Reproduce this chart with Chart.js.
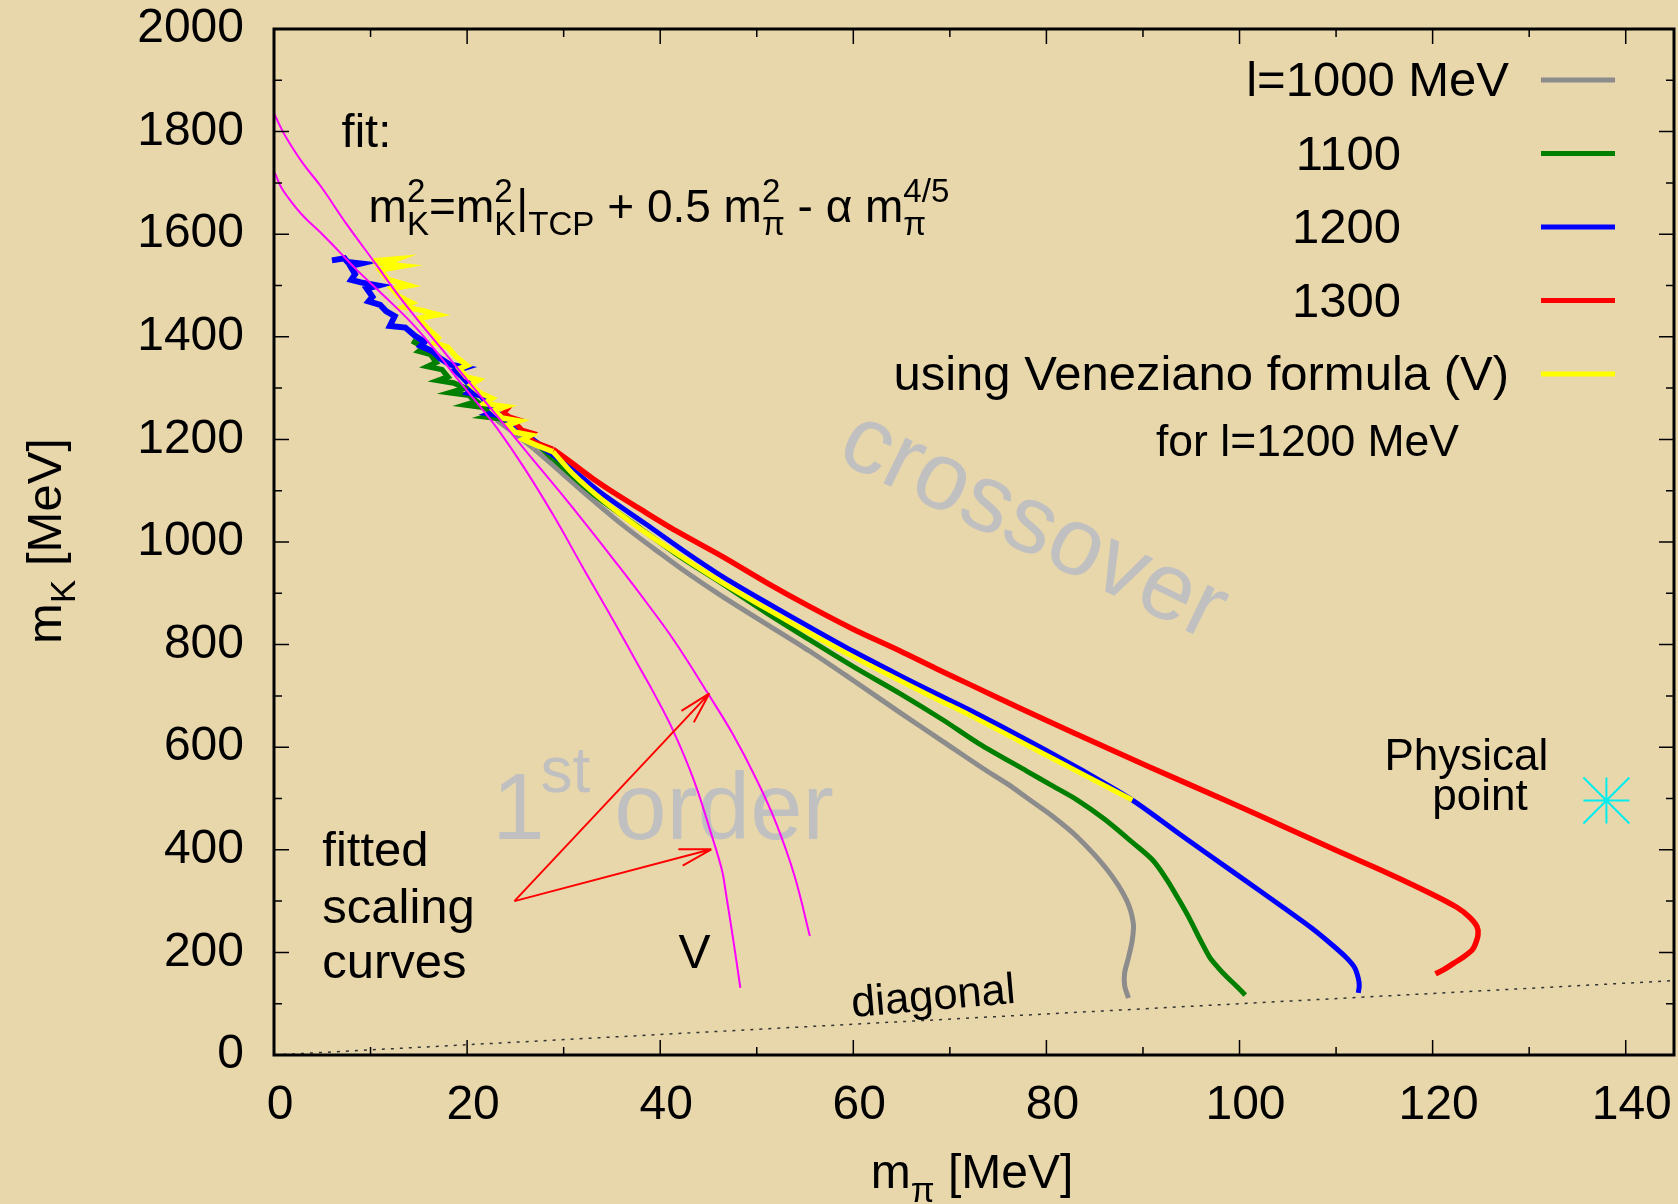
<!DOCTYPE html>
<html>
<head>
<meta charset="utf-8">
<script src="https://cdn.jsdelivr.net/npm/chart.js@4.4.0/dist/chart.umd.min.js"></script>
<style>
  html, body { margin: 0; padding: 0; background: #e9d7ac; }
  canvas { display: block; }
</style>
</head>
<body>
<canvas id="chart" width="1678" height="1204"></canvas>
<script>
const FONT = '"Liberation Sans", Arial, Helvetica, sans-serif';

// axis ranges and ticks
const xRange = [0, 145];
const yRange = [0, 2000];
const xTicks = [0, 20, 40, 60, 80, 100, 120, 140];
const xMinorTicks = [10, 30, 50, 70, 90, 110, 130];
const yTicks = [0, 200, 400, 600, 800, 1000, 1200, 1400, 1600, 1800, 2000];
const yMinorTicks = [100, 300, 500, 700, 900, 1100, 1300, 1500, 1700, 1900];

// critical lines [m_pi, m_K]; the noisy heads near the TCP are kept apart
const l1000Noise = [
  [20.3, 1282], [21.6, 1262], [22.4, 1256], [23.2, 1236], [24.9, 1212], [26.9, 1182]
];
const l1000 = [
  [26.9, 1182], [29.0, 1148], [32.5, 1090], [36.2, 1032], [40.0, 978], [43.0, 937],
  [46.5, 893], [51.0, 840], [55.5, 787], [60.0, 730], [64.8, 668], [69.3, 611],
  [73.4, 559], [76.0, 528], [78.3, 497], [80.6, 466], [83.2, 425], [86.3, 361],
  [88.3, 302], [89.0, 257], [88.9, 225], [88.5, 190], [88.1, 160], [88.1, 135], [88.5, 111]
];
const l1100Noise = [
  [14.3, 1392], [15.5, 1380], [15.0, 1372], [16.2, 1366], [16.8, 1350], [15.9, 1342],
  [17.4, 1336], [18.0, 1322], [17.0, 1315], [18.6, 1310], [19.8, 1300], [18.2, 1291],
  [20.2, 1286], [21.0, 1274], [19.8, 1267], [21.8, 1262], [22.8, 1250], [21.8, 1244],
  [23.5, 1240], [24.5, 1228], [25.8, 1212], [27.2, 1192], [28.9, 1162]
];
const l1100 = [
  [28.9, 1162], [33.0, 1094], [38.0, 1026], [42.0, 972], [46.5, 918], [51.0, 862],
  [55.5, 809], [60.0, 757], [64.8, 705], [69.3, 653], [73.0, 607], [78.0, 553],
  [80.5, 526], [83.2, 497], [86.0, 460], [89.0, 413], [91.0, 380], [92.5, 341],
  [93.8, 300], [94.9, 263], [96.0, 222], [96.9, 191], [97.8, 170], [98.7, 152],
  [99.7, 134], [100.6, 117]
];
const l1200Noise = [
  [6.0, 1549], [7.3, 1553], [7.6, 1546], [9.0, 1543], [7.9, 1538], [8.4, 1522],
  [8.0, 1511], [9.0, 1506], [10.8, 1500], [9.6, 1494], [10.2, 1478], [9.8, 1469],
  [11.0, 1462], [11.6, 1450], [12.5, 1440], [12.0, 1421], [13.6, 1418], [14.6, 1402],
  [15.6, 1390], [15.2, 1382], [16.4, 1372], [17.2, 1358], [18.2, 1346], [19.8, 1340],
  [18.8, 1334], [19.6, 1320], [20.6, 1300], [20.1, 1291], [21.4, 1286], [22.2, 1268],
  [23.0, 1254], [22.4, 1250], [23.6, 1246], [24.6, 1232], [26.0, 1210], [28.6, 1174]
];
const l1200 = [
  [28.6, 1174], [31.0, 1140], [34.0, 1094], [38.5, 1035], [42.5, 982], [46.5, 932],
  [51.0, 882], [55.5, 834], [60.0, 787], [64.8, 740], [68.5, 705], [72.1, 672],
  [78.6, 608], [83.5, 557], [88.9, 497], [94.0, 428], [99.4, 356], [104.5, 288],
  [107.5, 247], [109.7, 213], [111.0, 191], [111.9, 171], [112.3, 150], [112.4, 135],
  [112.3, 121]
];
const l1300Noise = [
  [23.2, 1264], [24.2, 1260], [23.8, 1252], [24.4, 1244], [25.4, 1238], [25.0, 1232],
  [25.7, 1218], [26.8, 1212], [26.3, 1205], [27.0, 1195], [28.9, 1181]
];
const l1300 = [
  [28.9, 1181], [31.0, 1152], [33.0, 1124], [35.3, 1095], [37.6, 1068], [41.7, 1021],
  [46.5, 971], [51.0, 921], [55.5, 874], [60.0, 830], [64.8, 788], [68.5, 754],
  [72.1, 722], [77.5, 674], [82.8, 628], [90.5, 563], [98.7, 495], [104.5, 446],
  [110.0, 399], [115.3, 355], [119.9, 314], [122.5, 288], [123.8, 269], [124.6, 250],
  [124.7, 234], [124.4, 215], [124.1, 205], [123.2, 191], [122.2, 179], [121.2, 167],
  [120.3, 158]
];
// Veneziano formula, l = 1200 MeV
const venezianoNoise = [
  [10.2, 1548], [12.8, 1552], [11.4, 1542], [13.4, 1538], [11.0, 1530], [11.8, 1512],
  [14.0, 1500], [12.2, 1494], [13.0, 1478], [14.3, 1466], [13.4, 1458], [15.2, 1452],
  [17.0, 1443], [15.0, 1436], [15.8, 1418], [17.0, 1398], [16.6, 1388], [18.0, 1380],
  [18.8, 1362], [20.0, 1344], [19.2, 1338], [19.9, 1322], [21.2, 1316], [20.4, 1306],
  [21.4, 1290], [22.6, 1280], [21.8, 1270], [24.0, 1264], [22.8, 1256], [23.6, 1242],
  [25.4, 1236], [24.2, 1228], [25.0, 1214], [26.6, 1208], [25.8, 1200], [27.0, 1190],
  [28.9, 1176]
];
const veneziano = [
  [28.9, 1176], [31.0, 1132], [34.0, 1082], [37.6, 1030], [42.0, 974], [46.5, 920],
  [51.0, 870], [55.5, 822], [60.0, 776], [64.8, 730], [68.5, 695], [72.1, 662],
  [78.6, 598], [83.5, 550], [88.9, 497]
];
// fitted scaling curves
const fitUpper = [
  [0, 1836], [0.7, 1808], [1.4, 1784], [3.0, 1738], [4.9, 1692], [7.5, 1620],
  [10.5, 1543], [13.0, 1478], [16.0, 1407], [18.0, 1362], [20.0, 1316], [23.7, 1232],
  [26.5, 1168], [29.5, 1100], [32.5, 1030], [35.5, 958], [38.5, 884], [41.4, 809],
  [44.9, 706], [47.5, 626], [50.0, 536], [52.0, 452], [53.9, 350], [55.5, 232]
];
const fitLower = [
  [0.1, 1719], [0.7, 1693], [1.4, 1673], [3.0, 1636], [4.9, 1602], [6.8, 1565],
  [8.6, 1530], [11.5, 1478], [14.2, 1428], [16.6, 1376], [19.0, 1318], [21.0, 1272],
  [23.1, 1222], [26.0, 1142], [29.0, 1050], [32.0, 950], [35.0, 852], [37.6, 764],
  [39.5, 700], [41.4, 630], [43.5, 535], [45.3, 430], [46.4, 360], [46.8, 316],
  [47.6, 220], [48.3, 131]
];
const diagonal = [[0, 0], [145, 145]];
const physicalPoint = [[138, 496]];
const arrowTail = [24.9, 300];
const arrowTips = [[45.1, 705], [45.3, 401]];

const legendLabels = ['l=1000 MeV', '1100', '1200', '1300', 'using Veneziano formula (V)'];
const legendNote = 'for l=1200 MeV';
const curveColors = ['#8c8c8c', '#007f00', '#0000ff', '#ff0000', '#ffff00'];

const toPoints = (pairs) => pairs.map(([x, y]) => ({ x, y }));

const curve = (label, pairs, color, width, order, tension) => ({
  label,
  data: toPoints(pairs),
  showLine: true,
  borderColor: color,
  backgroundColor: color,
  borderWidth: width,
  pointRadius: 0,
  tension,
  order,
});

const datasets = [
  curve(legendLabels[0], l1000Noise, curveColors[0], 5, 5, 0),
  curve(legendLabels[0], l1000, curveColors[0], 5, 5, 0.3),
  curve(legendLabels[1], l1100Noise, curveColors[1], 5.5, 4, 0),
  curve(legendLabels[1], l1100, curveColors[1], 5, 4, 0.3),
  curve(legendLabels[2], l1200Noise, curveColors[2], 6, 3, 0),
  curve(legendLabels[2], l1200, curveColors[2], 5, 3, 0.3),
  curve(legendLabels[3], l1300Noise, curveColors[3], 5, 2, 0),
  curve(legendLabels[3], l1300, curveColors[3], 5.5, 2, 0.3),
  curve(legendLabels[4], venezianoNoise, curveColors[4], 5.5, 1, 0),
  curve(legendLabels[4], veneziano, curveColors[4], 5, 1, 0.3),
  curve('fit', fitUpper, '#ff00ff', 2, 0, 0.4),
  curve('fit V', fitLower, '#ff00ff', 2, 0, 0.4),
  {
    label: 'diagonal',
    data: toPoints(diagonal),
    showLine: true,
    borderColor: '#333333',
    borderWidth: 1.5,
    borderDash: [3, 6],
    pointRadius: 0,
    order: 6,
  },
  {
    label: 'physical +',
    data: toPoints(physicalPoint),
    pointStyle: 'cross',
    pointRadius: 23,
    pointBorderColor: '#00eeee',
    pointBorderWidth: 2,
    order: 0,
  },
  {
    label: 'physical x',
    data: toPoints(physicalPoint),
    pointStyle: 'crossRot',
    pointRadius: 32.5,
    pointBorderColor: '#00eeee',
    pointBorderWidth: 2,
    order: 0,
  },
];

// text with stacked super/subscripts: parts are strings or {sup, sub}
const richText = (ctx, parts, x, y, size, align, color) => {
  const small = size * 0.72;
  const widthOf = (p) => {
    if (typeof p === 'string') {
      ctx.font = `${size}px ${FONT}`;
      return ctx.measureText(p).width;
    }
    ctx.font = `${small}px ${FONT}`;
    return Math.max(p.sup ? ctx.measureText(p.sup).width : 0, p.sub ? ctx.measureText(p.sub).width : 0);
  };
  const total = parts.reduce((sum, p) => sum + widthOf(p), 0);
  let cx = align === 'center' ? x - total / 2 : align === 'right' ? x - total : x;
  ctx.textAlign = 'left';
  ctx.textBaseline = 'alphabetic';
  ctx.fillStyle = color || '#000';
  parts.forEach((p) => {
    const w = widthOf(p);
    if (typeof p === 'string') {
      ctx.font = `${size}px ${FONT}`;
      ctx.fillText(p, cx, y);
    } else {
      ctx.font = `${small}px ${FONT}`;
      if (p.sup) ctx.fillText(p.sup, cx, y - size * 0.43);
      if (p.sub) ctx.fillText(p.sub, cx, y + size * 0.29);
    }
    cx += w;
  });
};

const backgroundTextPlugin = {
  id: 'backgroundText',
  beforeDatasetsDraw(chart) {
    const { ctx, scales: { x, y } } = chart;
    ctx.save();
    ctx.fillStyle = '#c0c0c0';
    // crossover
    ctx.save();
    ctx.translate(x.getPixelForValue(78.6), y.getPixelForValue(1030));
    ctx.rotate(26 * Math.PI / 180);
    ctx.font = `96px ${FONT}`;
    ctx.textAlign = 'center';
    ctx.textBaseline = 'middle';
    ctx.fillText('crossover', 0, 0);
    ctx.restore();
    // 1st order
    let px = x.getPixelForValue(22.6);
    const py = y.getPixelForValue(421);
    ctx.textAlign = 'left';
    ctx.textBaseline = 'alphabetic';
    ctx.font = `94px ${FONT}`;
    ctx.fillText('1', px, py);
    px += ctx.measureText('1').width - 4;
    ctx.font = `64px ${FONT}`;
    ctx.fillText('st', px, py - 47);
    px += ctx.measureText('st').width + 24;
    ctx.font = `94px ${FONT}`;
    ctx.fillText('order', px, py);
    ctx.restore();
  },
};

const decorPlugin = {
  id: 'decor',
  afterDatasetsDraw(chart) {
    const { ctx, chartArea: a, scales: { x, y } } = chart;
    ctx.save();

    // arrows
    ctx.strokeStyle = '#ff0000';
    ctx.lineWidth = 2;
    const tx = x.getPixelForValue(arrowTail[0]);
    const ty = y.getPixelForValue(arrowTail[1]);
    arrowTips.forEach(([vx, vy]) => {
      const hx = x.getPixelForValue(vx);
      const hy = y.getPixelForValue(vy);
      const ang = Math.atan2(ty - hy, tx - hx);
      ctx.beginPath();
      ctx.moveTo(tx, ty);
      ctx.lineTo(hx, hy);
      [-0.26, 0.26].forEach((d) => {
        ctx.moveTo(hx, hy);
        ctx.lineTo(hx + 33 * Math.cos(ang + d), hy + 33 * Math.sin(ang + d));
      });
      ctx.stroke();
    });

    // frame and inward ticks
    ctx.strokeStyle = '#000';
    ctx.lineWidth = 1.5;
    ctx.beginPath();
    const xt = (vals, len) => vals.forEach((v) => {
      const p = x.getPixelForValue(v);
      ctx.moveTo(p, a.bottom); ctx.lineTo(p, a.bottom - len);
      ctx.moveTo(p, a.top); ctx.lineTo(p, a.top + len);
    });
    const yt = (vals, len) => vals.forEach((v) => {
      const p = y.getPixelForValue(v);
      ctx.moveTo(a.left, p); ctx.lineTo(a.left + len, p);
      ctx.moveTo(a.right, p); ctx.lineTo(a.right - len, p);
    });
    xt(xTicks, 15); xt(xMinorTicks, 8);
    yt(yTicks, 15); yt(yMinorTicks, 8);
    ctx.stroke();
    ctx.lineWidth = 3;
    ctx.strokeRect(a.left, a.top, a.right - a.left, a.bottom - a.top);

    // annotations
    richText(ctx, ['fit:'], x.getPixelForValue(7.0), y.getPixelForValue(1770), 47, 'left');
    richText(ctx, [
      'm', { sup: '2', sub: 'K' }, '=m', { sup: '2', sub: 'K' }, '|', { sub: 'TCP' },
      ' + 0.5 m', { sup: '2', sub: 'π' }, ' - α m', { sup: '4/5', sub: 'π' },
    ], x.getPixelForValue(9.8), y.getPixelForValue(1624), 46, 'left');
    richText(ctx, ['fitted'], x.getPixelForValue(5.0), y.getPixelForValue(368), 49, 'left');
    richText(ctx, ['scaling'], x.getPixelForValue(5.0), y.getPixelForValue(257), 49, 'left');
    richText(ctx, ['curves'], x.getPixelForValue(5.0), y.getPixelForValue(150), 49, 'left');
    richText(ctx, ['V'], x.getPixelForValue(41.9), y.getPixelForValue(170), 48, 'left');
    richText(ctx, ['Physical'], x.getPixelForValue(123.5), y.getPixelForValue(556), 44, 'center');
    richText(ctx, ['point'], x.getPixelForValue(124.9), y.getPixelForValue(478), 44, 'center');
    ctx.save();
    ctx.translate(x.getPixelForValue(68.4), y.getPixelForValue(88));
    ctx.rotate(-5 * Math.PI / 180);
    richText(ctx, ['diagonal'], 0, 0, 43.5, 'center');
    ctx.restore();

    // legend (key): the bare numbers sit left of the " MeV" column
    legendLabels.forEach((label, i) => {
      const base = 96 + i * 73.5;
      const right = /^\d+$/.test(label) ? 1401 : 1509;
      richText(ctx, [label], right, base, 49, 'right');
      ctx.strokeStyle = curveColors[i];
      ctx.lineWidth = 5;
      ctx.beginPath();
      ctx.moveTo(1541, base - 16);
      ctx.lineTo(1615, base - 16);
      ctx.stroke();
    });
    richText(ctx, [legendNote], 1459, 456, 44.5, 'right');

    // axis titles
    richText(ctx, ['m', { sub: 'π' }, ' [MeV]'], 972, 1188, 48, 'center');
    ctx.save();
    ctx.translate(61, 541);
    ctx.rotate(-Math.PI / 2);
    richText(ctx, ['m', { sub: 'K' }, ' [MeV]'], 0, 0, 49, 'center');
    ctx.restore();

    ctx.restore();
  },
};

new Chart(document.getElementById('chart').getContext('2d'), {
  type: 'scatter',
  data: { datasets },
  plugins: [backgroundTextPlugin, decorPlugin],
  options: {
    responsive: false,
    animation: false,
    layout: { autoPadding: false, padding: { top: 29, right: 4, left: 0, bottom: 0 } },
    plugins: { legend: { display: false }, tooltip: { enabled: false } },
    scales: {
      x: {
        type: 'linear',
        min: xRange[0],
        max: xRange[1],
        afterBuildTicks: (scale) => { scale.ticks = xTicks.map((value) => ({ value })); },
        afterFit: (scale) => {
          scale.height = 149;
          scale.paddingLeft = 0;
          scale.paddingRight = 0;
        },
        grid: { display: false, drawTicks: false },
        border: { display: false },
        ticks: {
          color: '#000',
          font: { family: FONT, size: 48 },
          padding: 22,
          labelOffset: 6,
          maxRotation: 0,
          autoSkip: false,
          callback: (value) => String(value),
        },
      },
      y: {
        type: 'linear',
        min: yRange[0],
        max: yRange[1],
        afterBuildTicks: (scale) => { scale.ticks = yTicks.map((value) => ({ value })); },
        afterFit: (scale) => {
          scale.width = 274;
          scale.paddingTop = 0;
          scale.paddingBottom = 0;
        },
        grid: { display: false, drawTicks: false },
        border: { display: false },
        ticks: {
          color: '#000',
          font: { family: FONT, size: 48 },
          padding: 30,
          autoSkip: false,
          callback: (value) => String(value),
        },
      },
    },
  },
});
</script>
</body>
</html>
